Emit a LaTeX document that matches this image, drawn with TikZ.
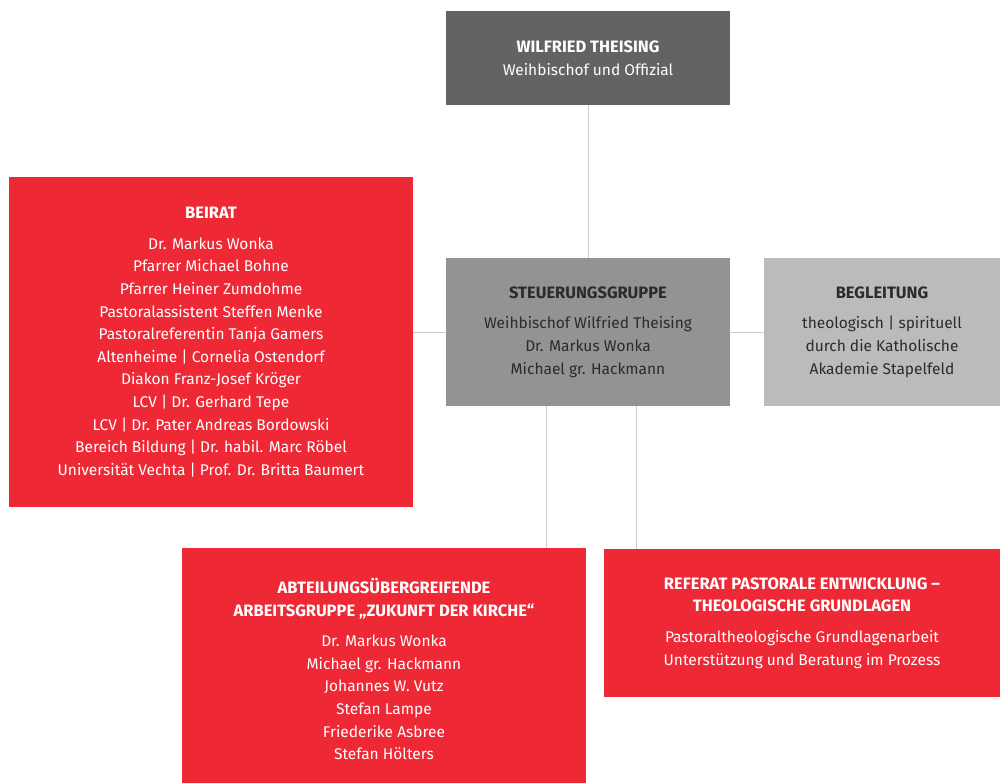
\documentclass[tikz,border=0pt]{standalone}
\usepackage{fontspec}
\setmainfont{Fira Sans}
\usepackage{tikz}
\definecolor{dkgray}{HTML}{636264}
\definecolor{mdgray}{HTML}{939396}
\definecolor{ltgray}{HTML}{BBBBBE}
\definecolor{bgred}{HTML}{EE2835}
\definecolor{ink}{HTML}{2B2B2D}
\definecolor{linegray}{HTML}{CBCBCB}
\newcommand\boxhead[1]{{\fontsize{16.5}{22.6}\selectfont\bfseries #1}}

\begin{document}
\begin{tikzpicture}[x=1pt,y=-1pt,
  box/.style={inner sep=0pt,align=center,font=\fontsize{15.5}{22.6}\selectfont},
  redbox/.style={box,fill=bgred,text=white},
  darkbox/.style={box,fill=dkgray,text=white},
  midbox/.style={box,fill=mdgray,text=ink},
  lightbox/.style={box,fill=ltgray,text=ink},
  conn/.style={linegray,line width=1pt}]
\clip (0,0) rectangle (1000,782);
\fill[white] (0,0) rectangle (1000,782);
\node[darkbox,minimum width=284pt,minimum height=94pt] (bischof) at (588,58)
  {\boxhead{WILFRIED THEISING}\\ Weihbischof und Offizial};
\node[midbox,minimum width=284pt,minimum height=148pt] (steuer) at (588,332)
  {\boxhead{STEUERUNGSGRUPPE}\\[8pt] Weihbischof Wilfried Theising\\ Dr. Markus Wonka\\ Michael gr. Hackmann};
\node[lightbox,minimum width=236pt,minimum height=148pt] (begleit) at (882,332)
  {\boxhead{BEGLEITUNG}\\[8pt] theologisch | spirituell\\ durch die Katholische\\ Akademie Stapelfeld};
\node[redbox,minimum width=404pt,minimum height=330pt] (beirat) at (211,342)
  {\boxhead{BEIRAT}\\[8pt] Dr. Markus Wonka\\ Pfarrer Michael Bohne\\ Pfarrer Heiner Zumdohme\\
   Pastoralassistent Steffen Menke\\ Pastoralreferentin Tanja Gamers\\ Altenheime | Cornelia Ostendorf\\
   Diakon Franz-Josef Kröger\\ LCV | Dr. Gerhard Tepe\\ LCV | Dr. Pater Andreas Bordowski\\
   Bereich Bildung | Dr. habil. Marc Röbel\\ Universität Vechta | Prof. Dr. Britta Baumert};
\node[redbox,minimum width=404pt,minimum height=242pt] (arbeit) at (384,669)
  {\boxhead{ABTEILUNGSÜBERGREIFENDE}\\ \boxhead{ARBEITSGRUPPE „ZUKUNFT DER KIRCHE“}\\[8pt]
   Dr. Markus Wonka\\ Michael gr. Hackmann\\ Johannes W. Vutz\\ Stefan Lampe\\ Friederike Asbree\\ Stefan Hölters};
\node[redbox,minimum width=396pt,minimum height=148pt] (referat) at (802,623)
  {\boxhead{REFERAT PASTORALE ENTWICKLUNG –}\\ \boxhead{THEOLOGISCHE GRUNDLAGEN}\\[8pt]
   Pastoraltheologische Grundlagenarbeit\\ Unterstützung und Beratung im Prozess};
\draw[conn] (bischof.south) -- (steuer.north);
\draw[conn] (steuer.west) -- (steuer.west -| beirat.east);
\draw[conn] (steuer.east) -- (begleit.west);
\draw[conn] ([xshift=-42pt]steuer.south) -- ([xshift=-42pt]steuer.south |- arbeit.north);
\draw[conn] ([xshift=48pt]steuer.south) -- ([xshift=48pt]steuer.south |- referat.north);
\end{tikzpicture}
\end{document}
